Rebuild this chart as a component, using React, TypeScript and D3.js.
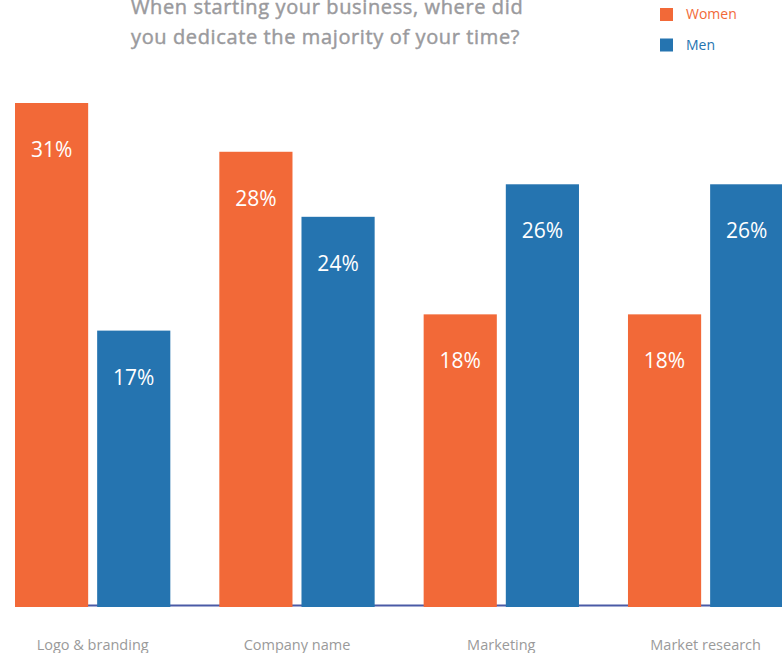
import React from "react";
import * as d3 from "d3";

const categories = ["Logo & branding", "Company name", "Marketing", "Market research"];
const seriesNames = ["Women", "Men"];
const women = [31, 28, 18, 18];
const men = [17, 24, 26, 26];
const titleLines = ["When starting your business, where did", "you dedicate the majority of your time?"];

const W = 782;
const H = 653;
const COLORS = ["#F26938", "#2574B0"];

export default function App() {
  const values = [women, men];
  const x0 = d3.scaleBand<string>().domain(categories).range([15, 783.3]).paddingInner(49 / 204.33).paddingOuter(0);
  const x1 = d3.scaleBand<string>().domain(seriesNames).range([0, x0.bandwidth()]).paddingInner(9 / 82.2);
  const y = d3.scaleLinear().domain([0, 31]).range([607, 103]);
  const font = "'Open Sans', 'Noto Sans', sans-serif";

  return (
    <svg width={W} height={H} style={{ position: "absolute", left: 0, top: 0, display: "block" }}>
      <rect width={W} height={H} fill="#fff" />
      {titleLines.map((t, i) => (
        <text key={i} x={131} y={14 + i * 30} fontFamily={font} fontSize={20} fill="#9a9a9d" stroke="#9a9a9d" strokeWidth={0.45} letterSpacing={0.62}>
          {t}
        </text>
      ))}
      {seriesNames.map((s, i) => (
        <g key={s}>
          <rect x={660} y={8 + i * 30.5} width={13} height={13} fill={COLORS[i]} />
          <text x={686} y={19 + i * 30.5} fontFamily={font} fontSize={14} fill={COLORS[i]}>
            {s}
          </text>
        </g>
      ))}
      <line x1={15} x2={W} y1={605.5} y2={605.5} stroke="#4a5aa6" strokeWidth={2} />
      {categories.map((c, ci) => (
        <g key={c} transform={`translate(${x0(c)},0)`}>
          {seriesNames.map((s, si) => {
            const v = values[si][ci];
            const bx = x1(s) as number;
            const bw = x1.bandwidth();
            return (
              <g key={s}>
                <rect x={bx} y={y(v)} width={bw} height={y(0) - y(v)} fill={COLORS[si]} />
                <text x={bx + bw / 2} y={y(v) + 54} textAnchor="middle" fontFamily={font} fontSize={21} fill="#fff">
                  {v}%
                </text>
              </g>
            );
          })}
          <text x={x0.bandwidth() / 2} y={650} textAnchor="middle" fontFamily={font} fontSize={14.5} fill="#9a9a9a">
            {c}
          </text>
        </g>
      ))}
    </svg>
  );
}
